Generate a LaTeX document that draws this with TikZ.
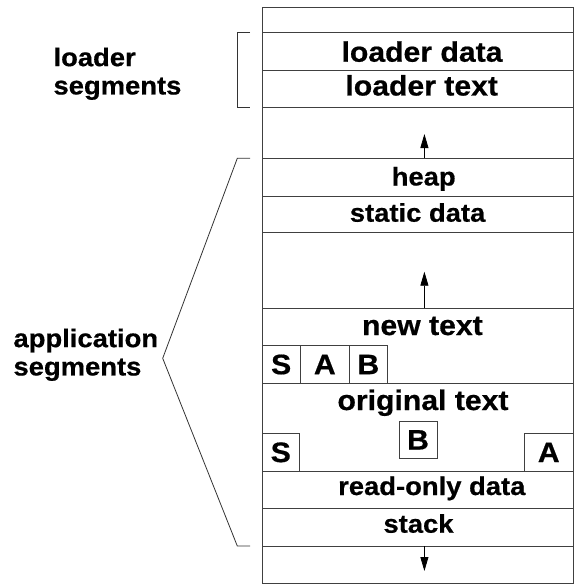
\documentclass[tikz,border=0pt]{standalone}
\usepackage{fontspec}
\setmainfont{Liberation Sans}[FakeStretch=1.07,FakeBold=0.6]
\usetikzlibrary{arrows.meta}
\begin{document}
\begin{tikzpicture}[x=1pt,y=-1pt,
  ln/.style={draw=black!75, line width=1pt},
  rowbox/.style={ln, minimum width=311.2pt, inner sep=0pt, outer sep=0pt},
  big/.style={font=\bfseries\fontsize{28.2}{30}\selectfont, anchor=base, inner sep=0pt},
  small/.style={font=\bfseries\fontsize{25.6}{28.3}\selectfont, anchor=base, inner sep=0pt},
  letter/.style={ln, font=\bfseries\fontsize{28.2}{30}\selectfont, inner sep=0pt, outer sep=0pt},
  lab/.style={font=\bfseries\fontsize{25.6}{28.3}\selectfont, align=left, anchor=north west, inner sep=0pt},
  arr/.style={draw=black, line width=0.8pt, -{Triangle[length=14pt,width=8pt]}},
  brk/.style={draw=black!80, line width=0.8pt}]
\useasboundingbox (0,0) rectangle (581,586);
% column rows
\node[rowbox, minimum height=25.4pt] (toprow) at (417.9,20) {};
\node[rowbox, minimum height=37.6pt] (ldata) at (417.9,51.5) {};
\node[rowbox, minimum height=37.4pt] (ltext) at (417.9,89) {};
\node[rowbox, minimum height=50.6pt] (gapa) at (417.9,133) {};
\node[rowbox, minimum height=37.7pt] (heap) at (417.9,177.15) {};
\node[rowbox, minimum height=36.7pt] (sdata) at (417.9,214.35) {};
\node[rowbox, minimum height=75.6pt] (gapb) at (417.9,270.5) {};
\node[rowbox, minimum height=75pt] (ntext) at (417.9,345.8) {};
\node[rowbox, minimum height=87.7pt] (otext) at (417.9,427.15) {};
\node[rowbox, minimum height=37.7pt] (rodata) at (417.9,489.85) {};
\node[rowbox, minimum height=37.3pt] (stack) at (417.9,527.35) {};
\node[rowbox, minimum height=37.7pt] (botrow) at (417.9,564.85) {};
% row texts
\node[big] (ldatat) at (422,61.7) {loader data};
\node[big] (ltextt) at (421.7,95.5) {loader text};
\node[small] (heapt) at (423.7,185.5) {heap};
\node[small] (sdatat) at (417.6,221.7) {static data};
\node[big] (ntextt) at (422.4,335) {new text};
\node[big] (otextt) at (423,410) {original text};
\node[small] (rodatat) at (431.8,495) {read-only data};
\node[small] (stackt) at (418.5,532.7) {stack};
% letter boxes
\node[letter, minimum width=37.7pt, minimum height=37.6pt] (sa) at (281.15,364.5) {S};
\node[letter, minimum width=49.6pt, minimum height=37.6pt] (aa) at (324.8,364.5) {A};
\node[letter, minimum width=37.4pt, minimum height=37.6pt] (ba) at (368.3,364.5) {B};
\node[letter, minimum width=37pt, minimum height=37.3pt] (sb) at (280.8,452.35) {S};
\node[letter, minimum width=38pt, minimum height=37.7pt] (bb) at (418,439.85) {B};
\node[letter, minimum width=49.5pt, minimum height=37.3pt] (ab) at (548.75,452.35) {A};
% arrows
\coordinate (tipa) at (424.4,134);
\coordinate (tipb) at (424.4,271.7);
\coordinate (tipc) at (424.4,571);
\draw[arr] (heap.north -| tipa) -- (tipa);
\draw[arr] (ntext.north -| tipb) -- (tipb);
\draw[arr] (botrow.north -| tipc) -- (tipc);
% brackets
\coordinate (apex) at (162.7,358.3);
\draw[brk] ([xshift=-12.3pt]ldata.north west) -- ([xshift=-25pt]ldata.north west) -- ([xshift=-25pt]ltext.south west) -- ([xshift=-12.3pt]ltext.south west);
\draw[brk] ([xshift=-12.3pt]heap.north west) -- ([xshift=-25pt]heap.north west) -- (apex) -- ([xshift=-25pt]stack.south west) -- ([xshift=-12.3pt]stack.south west);
% labels
\node[lab] (loaderlab) at (53.3,47.4) {loader\\segments};
\node[lab] (applab) at (13.3,328.4) {application\\segments};
\end{tikzpicture}
\end{document}
